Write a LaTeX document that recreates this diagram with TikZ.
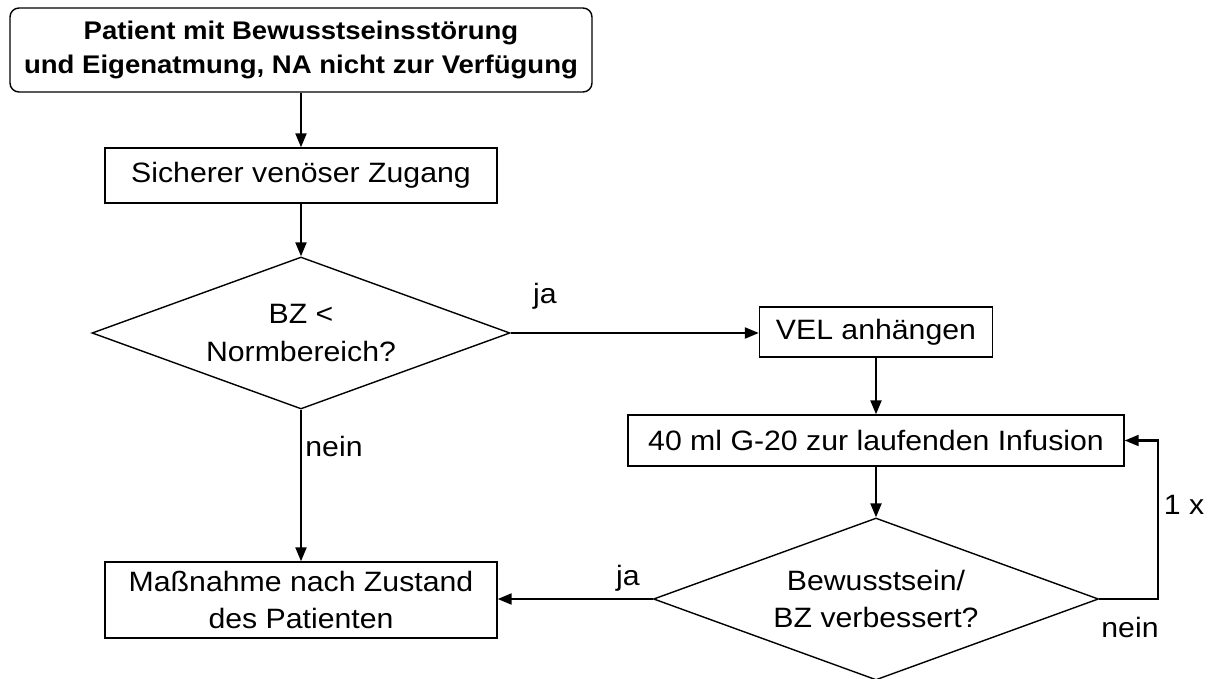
\documentclass[tikz,border=0pt]{standalone}
\usepackage{fontspec}
\setmainfont{Liberation Sans}[FakeStretch=1.08]
\usetikzlibrary{shapes.geometric,arrows.meta}
\begin{document}
\begin{tikzpicture}[x=1pt,y=-1pt,
  every node/.style={font=\fontsize{28}{37.5}\selectfont, align=center, inner sep=0pt},
  box/.style={draw, line width=1.4pt, rectangle},
  startbox/.style={draw, line width=1.4pt, rectangle, rounded corners=9pt, font=\bfseries\fontsize{25.5}{33.5}\selectfont},
  decision/.style={draw, line width=1.4pt, diamond},
  flow/.style={line width=2.2pt, -{Triangle[length=14pt,width=11pt]}},
  lbl/.style={font=\fontsize{28}{37.5}\selectfont}]
\useasboundingbox (0,0) rectangle (1212,679);

% process boxes and decisions
\node[startbox, minimum width=582pt, minimum height=84pt] (start) at (301,50)
  {Patient mit Bewusstseinsstörung\\und Eigenatmung, NA nicht zur Verfügung};
\node[box, minimum width=392pt, minimum height=55pt] (zug) at (301,175.5) {Sicherer venöser Zugang};
\node[decision, shape aspect=2.75, minimum width=418pt, minimum height=152pt] (d1) at (301,333) {BZ <\\Normbereich?};
\node[box, minimum width=233pt, minimum height=50pt] (vel) at (876,332) {VEL anhängen};
\node[box, minimum width=496pt, minimum height=51pt] (inf) at (876,440.5) {40 ml G-20 zur laufenden Infusion};
\node[decision, shape aspect=2.75, minimum width=445pt, minimum height=162pt] (d2) at (876,599) {Bewusstsein/\\BZ verbessert?};
\node[box, minimum width=392pt, minimum height=76pt] (mass) at (301,600) {Maßnahme nach Zustand\\des Patienten};

\coordinate (loop) at (1158,599);

% connectors
\draw[flow] (start.south) -- (zug.north);
\draw[flow] (zug.south) -- (d1.north);
\draw[flow] (d1.east) -- (d1.east -| vel.west);
\draw[flow] (vel.south) -- (inf.north);
\draw[flow] (inf.south) -- (d2.north);
\draw[flow] (d2.west) -- (d2.west -| mass.east);
\draw[flow] (d1.south) -- (mass.north);
\draw[flow] (d2.east) -- (loop) |- (inf.east);

% branch labels
\node[lbl] (ja1) at (545,296) {ja};
\node[lbl] (ja2) at (628,578) {ja};
\node[lbl] (nein1) at (334,446) {nein};
\node[lbl] (nein2) at (1130,627) {nein};
\node[lbl] (mal) at (1184,505) {1 x};
\end{tikzpicture}
\end{document}
